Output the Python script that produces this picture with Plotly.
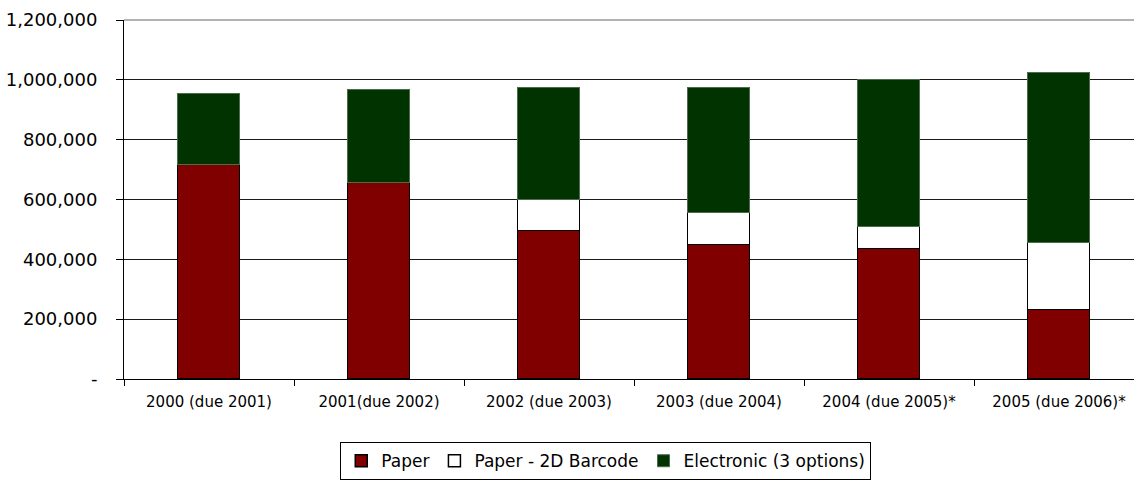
import plotly.graph_objects as go

# Filing-year categories
categories = [
    "2000 (due 2001)",
    "2001(due 2002)",
    "2002 (due 2003)",
    "2003 (due 2004)",
    "2004 (due 2005)*",
    "2005 (due 2006)*",
]

# Returns filed by method
paper = [715000, 654000, 496000, 449000, 436000, 229000]
paper_2d_barcode = [None, None, 102000, 105000, 71000, 224000]
electronic = [237000, 313000, 375000, 419000, 491000, 571000]

# Value-axis ticks
y_tick_values = [0, 200000, 400000, 600000, 800000, 1000000, 1200000]
y_tick_labels = ["-", "200,000", "400,000", "600,000", "800,000", "1,000,000", "1,200,000"]

FONT = "DejaVu Sans"
bar_w = 0.37

fig = go.Figure()
fig.add_trace(go.Bar(
    x=categories, y=paper, name="Paper", width=bar_w,
    marker=dict(color="#800000", line=dict(color="#000000", width=1.5)),
))
fig.add_trace(go.Bar(
    x=categories, y=paper_2d_barcode, name="Paper - 2D Barcode", width=bar_w,
    marker=dict(color="#FFFFFF", line=dict(color="#000000", width=1.5)),
))
fig.add_trace(go.Bar(
    x=categories, y=electronic, name="Electronic (3 options)", width=bar_w,
    marker=dict(color="#003300", line=dict(color="#4d6b4d", width=1)),
))

plot_left, plot_right = 124, 1134
cat_px = 170.0
x_max = -0.5 + (plot_right - plot_left) / cat_px

fig.update_layout(
    width=1134, height=483,
    barmode="stack",
    bargap=0,
    paper_bgcolor="white",
    plot_bgcolor="white",
    margin=dict(l=plot_left, r=0, t=19.5, b=103.5, pad=0),
    font=dict(family=FONT, color="#000000"),
    showlegend=True,
    legend=dict(
        orientation="h",
        x=0.477, xanchor="center",
        y=-0.176, yanchor="top",
        bordercolor="#000000", borderwidth=1,
        bgcolor="white",
        font=dict(family=FONT, size=17, color="#000000"),
        traceorder="normal",
        itemwidth=30,
    ),
    xaxis=dict(
        type="category",
        categoryorder="array",
        categoryarray=categories,
        range=[-0.5, x_max],
        tickson="boundaries",
        ticks="outside", ticklen=6, tickcolor="#000000", tickwidth=1,
        showgrid=False,
        showline=True, linecolor="#000000", linewidth=1,
        zeroline=False,
        tickfont=dict(family=FONT, size=15, color="#000000"),
        ticklabelstandoff=9,
    ),
    yaxis=dict(
        range=[0, 1200000],
        tickmode="array",
        tickvals=y_tick_values,
        ticktext=y_tick_labels,
        ticks="outside", ticklen=7, tickcolor="#000000", tickwidth=1,
        showgrid=True, gridcolor="#1a1a1a", gridwidth=1,
        showline=True, linecolor="#000000", linewidth=1,
        zeroline=False,
        tickfont=dict(family=FONT, size=18, color="#000000"),
        ticklabelstandoff=15,
    ),
    shapes=[
        dict(type="line", xref="paper", yref="paper", x0=0, x1=1, y0=1, y1=1,
             line=dict(color="#999999", width=1.5)),
    ],
)

fig.write_html("out.html")
